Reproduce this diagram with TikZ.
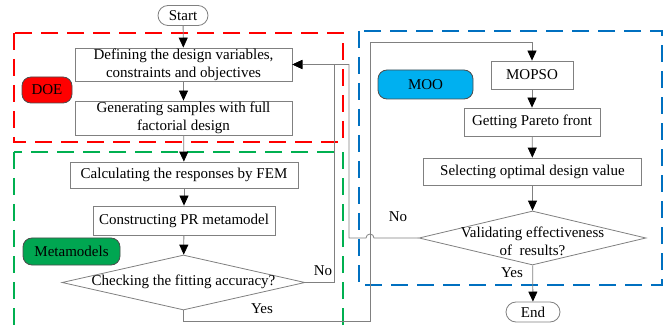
\documentclass[tikz,border=0pt]{standalone}
\usepackage{fontspec}
\setmainfont{Liberation Serif}
\usetikzlibrary{arrows.meta,shapes.geometric}
\definecolor{lgray}{RGB}{128,128,128}
\definecolor{dred}{RGB}{255,0,0}
\definecolor{dgreen}{RGB}{0,176,80}
\definecolor{dblue}{RGB}{0,112,192}
\definecolor{doefill}{RGB}{255,0,0}
\definecolor{metafill}{RGB}{0,166,81}
\definecolor{moofill}{RGB}{0,176,240}
\begin{document}
\begin{tikzpicture}[x=1pt,y=-1pt,
  font=\fontsize{15}{18}\selectfont,
  box/.style={draw=lgray, line width=0.8pt, inner sep=0pt, align=center},
  term/.style={draw=lgray, line width=0.8pt, inner sep=0pt, rounded corners=10pt, minimum height=20pt},
  dia/.style={diamond, draw=lgray, line width=0.8pt, inner sep=0pt},
  tag/.style={draw=black!70, line width=0.8pt, rounded corners=9pt, inner sep=0pt},
  grp/.style={line width=1.3pt, dash pattern=on 17pt off 9pt},
  conn/.style={draw=lgray, line width=0.8pt},
  arr/.style={conn, -{Triangle[length=10pt,width=9pt,fill=black,color=black]}},
  lbl/.style={inner sep=0pt}
]
\useasboundingbox (0,0) rectangle (670,326);
\clip (0,0) rectangle (670,326);

% group frames
\draw[grp, dred] (14,33) rectangle (343,142);
\draw[grp, dgreen] (14,152) rectangle (343,334);
\draw[grp, dblue] (359,31) rectangle (662,285);

% tags
\node[tag, fill=doefill, minimum width=50pt, minimum height=26pt] (doe) at (47,90) {DOE};
\node[tag, fill=metafill, minimum width=97pt, minimum height=27pt] (meta) at (71.5,251.5) {Metamodels};
\node[tag, fill=moofill, minimum width=95pt, minimum height=29pt] (moo) at (425.5,84.5) {MOO};

% left column
\node[term, minimum width=50pt] (start) at (183,15.5) {Start};
\node[box, minimum width=217pt, minimum height=33pt] (b1) at (183.5,64.5) {Defining the design variables,\\constraints and objectives};
\node[box, minimum width=217pt, minimum height=34pt] (b2) at (183.5,118) {Generating samples with full\\factorial design};
\node[box, minimum width=228pt, minimum height=26pt] (b3) at (184,175) {Calculating the responses by FEM};
\node[box, minimum width=182pt, minimum height=29pt] (b4) at (184,220.5) {Constructing PR metamodel};
\node[dia, minimum width=243pt, minimum height=55pt] (chk) at (183.5,282.5) {};
\node[lbl] (chkt) at (183.5,282) {Checking the fitting accuracy?};

% right column
\node[box, minimum width=82pt, minimum height=28pt] (mopso) at (532,75) {MOPSO};
\node[box, minimum width=136pt, minimum height=28pt] (pareto) at (532,122) {Getting Pareto front};
\node[box, minimum width=218pt, minimum height=27pt] (sel) at (532.5,171.5) {Selecting optimal design value};
\node[dia, minimum width=227pt, minimum height=54pt] (val) at (532.5,238) {};
\node[lbl, align=center] (valt) at (532.5,241) {Validating effectiveness\\of\ \ results?};
\node[term, minimum width=54pt] (end) at (533,312) {End};

% labels
\node[lbl] (no1) at (323,271) {No};
\node[lbl] (no2) at (398,217) {No};
\node[lbl] (yes1) at (262,309) {Yes};
\node[lbl] (yes2) at (512,273) {Yes};

% coordinates
\coordinate (c1) at (334,282.5);
\coordinate (c2) at (349,238);
\coordinate (y1) at (183.5,321);
\coordinate (y2) at (370,42);

% connectors
\draw[arr] (start) -- (b1);
\draw[arr] (b1) -- (b2);
\draw[arr] (b2) -- (b3);
\draw[arr] (b3) -- (b4);
\draw[arr] (b4) -- (chk);
\draw[arr] (mopso) -- (pareto);
\draw[arr] (pareto) -- (sel);
\draw[arr] (sel) -- (val);
\draw[arr] (val) -- (end);
\draw[arr] (chk.east) -- (c1) |- (b1.east);
\draw[arr] (val.west) -- (374,238) arc[start angle=0, end angle=-180, radius=4] -- (c2) |- (b1.east);
\draw[arr] (chk.south) -- (y1) -| (y2) -| (mopso.north);
\end{tikzpicture}
\end{document}
